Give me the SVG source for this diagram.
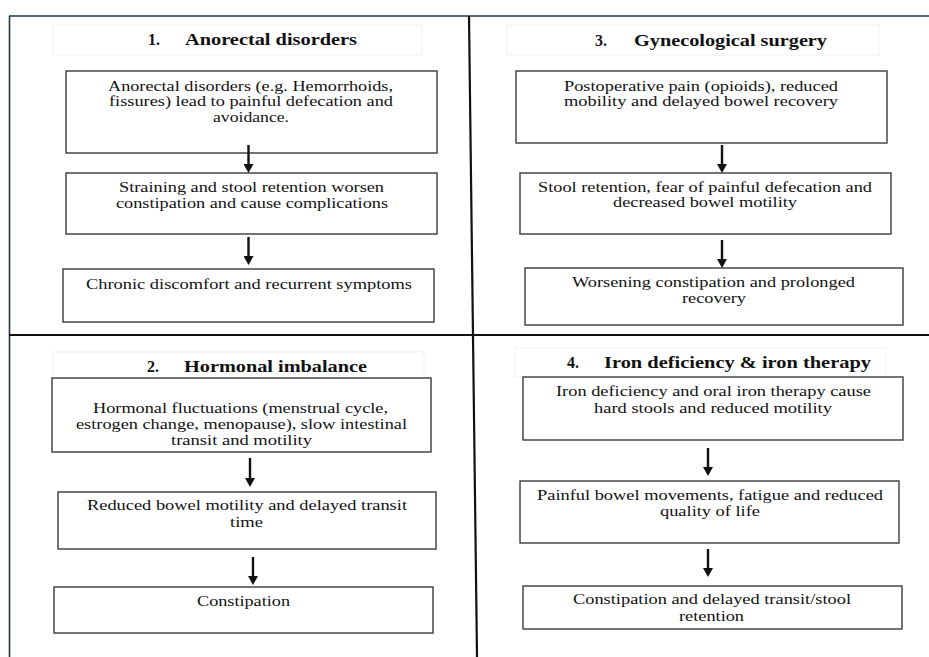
<svg xmlns="http://www.w3.org/2000/svg" width="929" height="657" viewBox="0 0 929 657">
<style>
.box{fill:#fff;stroke:#3a3a3a;stroke-width:1.4}
.tbox{fill:#fff;stroke:#f1f1f1;stroke-width:1}
.t{font-family:"Liberation Serif","Times New Roman","DejaVu Serif",serif;font-size:14px;fill:#111}
.h{font-family:"Liberation Serif","Times New Roman","DejaVu Serif",serif;font-size:16px;font-weight:bold;fill:#111}
.arr{stroke:#111;stroke-width:2.4;fill:none}
</style>
<defs>
<marker id="ah" viewBox="0 0 9 10" refX="0" refY="5" markerWidth="9" markerHeight="10" markerUnits="userSpaceOnUse" orient="auto">
<path d="M0,0 L9,5 L0,10 z" fill="#111"/>
</marker>
</defs>
<rect width="929" height="657" fill="#fff"/>
<g id="frame">
<line x1="9" y1="16" x2="929" y2="16" stroke="#1d3545" stroke-width="1.6"/>
<line x1="9.5" y1="16" x2="9.5" y2="657" stroke="#1d3545" stroke-width="1.6"/>
<line x1="469" y1="16" x2="477" y2="657" stroke="#111" stroke-width="2.2"/>
<line x1="9" y1="335" x2="929" y2="335" stroke="#111" stroke-width="2"/>
</g>
<g id="panel1">
<g id="title1"><rect class="tbox" x="53" y="25" width="369" height="30"/><text class="h" x="148" y="45">1.</text><text class="h" x="185" y="45" textLength="172" lengthAdjust="spacingAndGlyphs">Anorectal disorders</text></g>
<g id="n1a"><rect class="box" x="66" y="71" width="371" height="82"/>
<text class="t" x="108" y="91" textLength="285" lengthAdjust="spacingAndGlyphs">Anorectal disorders (e.g. Hemorrhoids,</text>
<text class="t" x="109" y="106" textLength="284" lengthAdjust="spacingAndGlyphs">fissures) lead to painful defecation and</text>
<text class="t" x="213" y="122" textLength="76" lengthAdjust="spacingAndGlyphs">avoidance.</text></g>
<g id="n1b"><rect class="box" x="66" y="173" width="371" height="61"/>
<text class="t" x="119" y="192" textLength="265" lengthAdjust="spacingAndGlyphs">Straining and stool retention worsen</text>
<text class="t" x="116" y="208" textLength="272" lengthAdjust="spacingAndGlyphs">constipation and cause complications</text></g>
<g id="n1c"><rect class="box" x="63" y="269" width="371" height="53"/>
<text class="t" x="86" y="289" textLength="326" lengthAdjust="spacingAndGlyphs">Chronic discomfort and recurrent symptoms</text></g>
</g>
<g id="panel3">
<g id="title3"><rect class="tbox" x="507" y="25" width="372" height="30"/><text class="h" x="595" y="46">3.</text><text class="h" x="634" y="46" textLength="193" lengthAdjust="spacingAndGlyphs">Gynecological surgery</text></g>
<g id="n3a"><rect class="box" x="516" y="71" width="371" height="72"/>
<text class="t" x="564" y="91" textLength="274" lengthAdjust="spacingAndGlyphs">Postoperative pain (opioids), reduced</text>
<text class="t" x="564" y="106" textLength="274" lengthAdjust="spacingAndGlyphs">mobility and delayed bowel recovery</text></g>
<g id="n3b"><rect class="box" x="520" y="173" width="371" height="61"/>
<text class="t" x="538" y="192" textLength="334" lengthAdjust="spacingAndGlyphs">Stool retention, fear of painful defecation and</text>
<text class="t" x="613" y="207" textLength="184" lengthAdjust="spacingAndGlyphs">decreased bowel motility</text></g>
<g id="n3c"><rect class="box" x="525" y="268" width="378" height="57"/>
<text class="t" x="572" y="287" textLength="283" lengthAdjust="spacingAndGlyphs">Worsening constipation and prolonged</text>
<text class="t" x="682" y="303" textLength="64" lengthAdjust="spacingAndGlyphs">recovery</text></g>
</g>
<g id="panel2">
<g id="title2"><rect class="tbox" x="53" y="352" width="371" height="26"/><text class="h" x="147" y="372">2.</text><text class="h" x="184" y="372" textLength="183" lengthAdjust="spacingAndGlyphs">Hormonal imbalance</text></g>
<g id="n2a"><rect class="box" x="52" y="378" width="379" height="74"/>
<text class="t" x="93" y="413" textLength="295" lengthAdjust="spacingAndGlyphs">Hormonal fluctuations (menstrual cycle,</text>
<text class="t" x="76" y="429" textLength="331" lengthAdjust="spacingAndGlyphs">estrogen change, menopause), slow intestinal</text>
<text class="t" x="171" y="445" textLength="141" lengthAdjust="spacingAndGlyphs">transit and motility</text></g>
<g id="n2b"><rect class="box" x="58" y="492" width="378" height="57"/>
<text class="t" x="87" y="510" textLength="320" lengthAdjust="spacingAndGlyphs">Reduced bowel motility and delayed transit</text>
<text class="t" x="230" y="527" textLength="33" lengthAdjust="spacingAndGlyphs">time</text></g>
<g id="n2c"><rect class="box" x="54" y="587" width="379" height="46"/>
<text class="t" x="197" y="606" textLength="93" lengthAdjust="spacingAndGlyphs">Constipation</text></g>
</g>
<g id="panel4">
<g id="title4"><rect class="tbox" x="515" y="348" width="371" height="29"/><text class="h" x="567" y="368">4.</text><text class="h" x="604" y="368" textLength="267" lengthAdjust="spacingAndGlyphs">Iron deficiency &amp; iron therapy</text></g>
<g id="n4a"><rect class="box" x="523" y="377" width="380" height="63"/>
<text class="t" x="556" y="396" textLength="315" lengthAdjust="spacingAndGlyphs">Iron deficiency and oral iron therapy cause</text>
<text class="t" x="594" y="413" textLength="238" lengthAdjust="spacingAndGlyphs">hard stools and reduced motility</text></g>
<g id="n4b"><rect class="box" x="520" y="481" width="379" height="62"/>
<text class="t" x="537" y="500" textLength="346" lengthAdjust="spacingAndGlyphs">Painful bowel movements, fatigue and reduced</text>
<text class="t" x="660" y="516" textLength="100" lengthAdjust="spacingAndGlyphs">quality of life</text></g>
<g id="n4c"><rect class="box" x="523" y="586" width="379" height="43"/>
<text class="t" x="573" y="604" textLength="278" lengthAdjust="spacingAndGlyphs">Constipation and delayed transit/stool</text>
<text class="t" x="679" y="621" textLength="65" lengthAdjust="spacingAndGlyphs">retention</text></g>
</g>
<g id="connectors">
<line class="arr" x1="248.5" y1="145" x2="248.5" y2="164" marker-end="url(#ah)"/>
<line class="arr" x1="248.5" y1="237" x2="248.5" y2="256" marker-end="url(#ah)"/>
<line class="arr" x1="722" y1="145" x2="722" y2="164" marker-end="url(#ah)"/>
<line class="arr" x1="722" y1="240" x2="722" y2="259" marker-end="url(#ah)"/>
<line class="arr" x1="250" y1="458" x2="250" y2="478" marker-end="url(#ah)"/>
<line class="arr" x1="253" y1="557" x2="253" y2="576" marker-end="url(#ah)"/>
<line class="arr" x1="708" y1="448" x2="708" y2="467" marker-end="url(#ah)"/>
<line class="arr" x1="708" y1="549" x2="708" y2="568" marker-end="url(#ah)"/>
</g>
</svg>
